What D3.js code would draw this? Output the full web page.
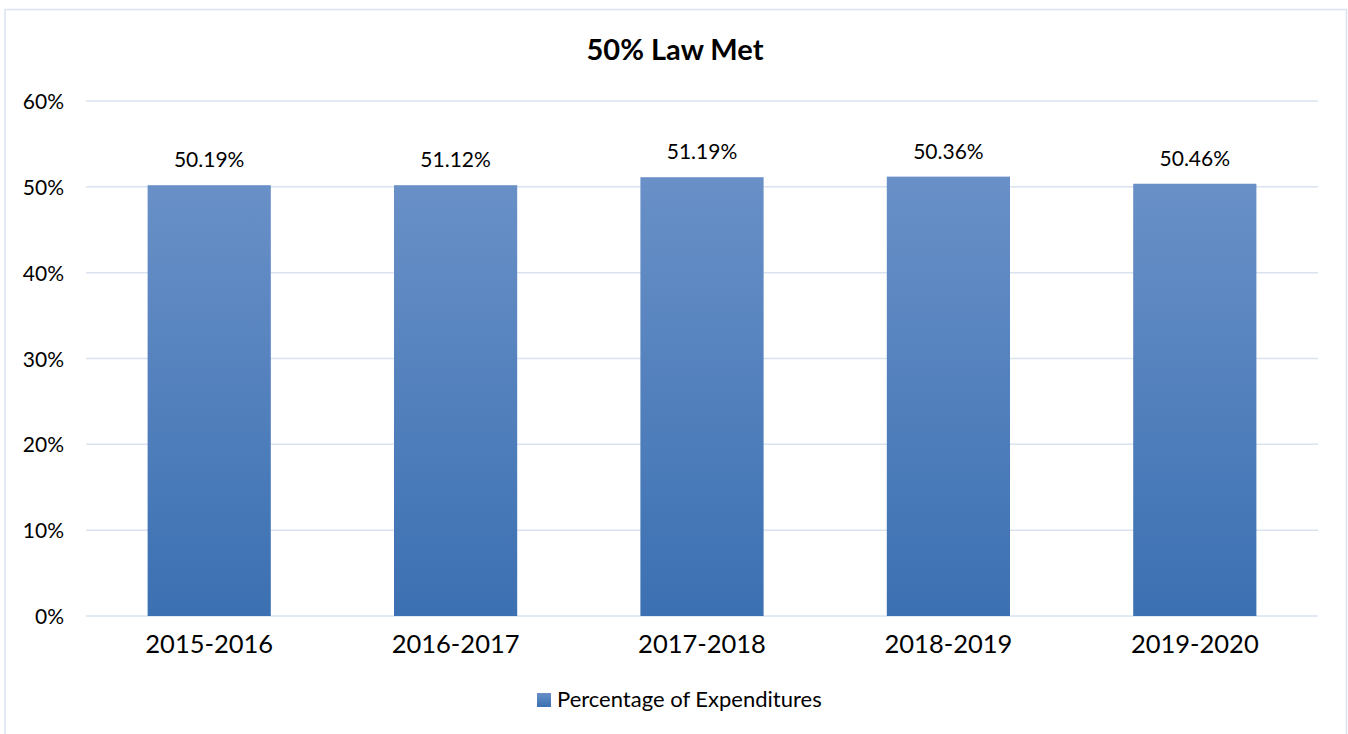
<!DOCTYPE html>
<html>
<head>
<meta charset="utf-8">
<script src="https://cdn.jsdelivr.net/npm/d3@7"></script>
<style>
  html, body { margin: 0; padding: 0; background: #fff; }
  svg { display: block; font-family: Lato, "Open Sans", sans-serif; }
</style>
</head>
<body>
<svg id="chart" width="1348" height="734"></svg>
<script>
const title = "50% Law Met";
const categories = ["2015-2016", "2016-2017", "2017-2018", "2018-2019", "2019-2020"];
const barValues = [50.19, 50.19, 51.12, 51.19, 50.36];
const barLabels = ["50.19%", "51.12%", "51.19%", "50.36%", "50.46%"];
const yTicks = [0, 10, 20, 30, 40, 50, 60];
const seriesName = "Percentage of Expenditures";

const W = 1348, H = 734;
const margin = { left: 86, right: 30, top: 101, bottom: 118 };
const svg = d3.select("#chart");

const defs = svg.append("defs");
const grad = defs.append("linearGradient").attr("id", "barGrad")
  .attr("x1", 0).attr("y1", 0).attr("x2", 0).attr("y2", 1);
grad.append("stop").attr("offset", "0%").attr("stop-color", "#6990c7");
grad.append("stop").attr("offset", "100%").attr("stop-color", "#3b70b2");

// outer border
svg.append("rect").attr("x", 5).attr("y", 9.5).attr("width", W - 6.5).attr("height", H)
  .attr("fill", "none").attr("stroke", "#d9e3f0").attr("stroke-width", 1.5);

const x = d3.scaleBand().domain(categories).range([margin.left, W - margin.right]).paddingInner(0.5).paddingOuter(0.25);
const y = d3.scaleLinear().domain([0, 60]).range([616, 101]);

// gridlines
svg.append("g").selectAll("line").data(yTicks).join("line")
  .attr("x1", margin.left).attr("x2", W - margin.right)
  .attr("y1", d => y(d)).attr("y2", d => y(d))
  .attr("stroke", "#d9e3f0").attr("stroke-width", 1.5);

// y axis labels
const yAxis = d3.axisLeft(y).tickValues(yTicks).tickFormat(d => d + "%").tickSize(0).tickPadding(0);
const gy = svg.append("g").attr("transform", "translate(64,0)").call(yAxis);
gy.select(".domain").remove();
gy.selectAll("text").attr("font-size", 21).attr("fill", "#000").attr("font-family", "Lato, sans-serif").attr("dy", "0.36em");

// bars
svg.append("g").selectAll("rect").data(barValues).join("rect")
  .attr("x", (d, i) => x(categories[i]))
  .attr("width", x.bandwidth())
  .attr("y", d => y(d))
  .attr("height", d => y(0) - y(d))
  .attr("fill", "url(#barGrad)");

// data labels
svg.append("g").selectAll("text").data(barValues).join("text")
  .attr("x", (d, i) => x(categories[i]) + x.bandwidth() / 2)
  .attr("y", d => y(d) - 18)
  .attr("text-anchor", "middle")
  .attr("font-size", 21)
  .attr("fill", "#000")
  .text((d, i) => barLabels[i]);

// x axis labels
const xAxis = d3.axisBottom(x).tickSize(0).tickPadding(0);
const gx = svg.append("g").attr("transform", "translate(0,634)").call(xAxis);
gx.select(".domain").remove();
gx.selectAll("text").attr("font-size", 25.5).attr("fill", "#000").attr("font-family", "Lato, sans-serif").attr("dy", "0.74em");

// title
svg.append("text").attr("x", 675).attr("y", 60).attr("text-anchor", "middle")
  .attr("font-size", 29).attr("font-weight", "bold").attr("fill", "#000").text(title);

// legend
const lg = svg.append("g");
lg.append("rect").attr("x", 537).attr("y", 693).attr("width", 14).attr("height", 14).attr("fill", "url(#barGrad)");
lg.append("text").attr("x", 557).attr("y", 707).attr("font-size", 22).attr("fill", "#000").text(seriesName);
</script>
</body>
</html>
